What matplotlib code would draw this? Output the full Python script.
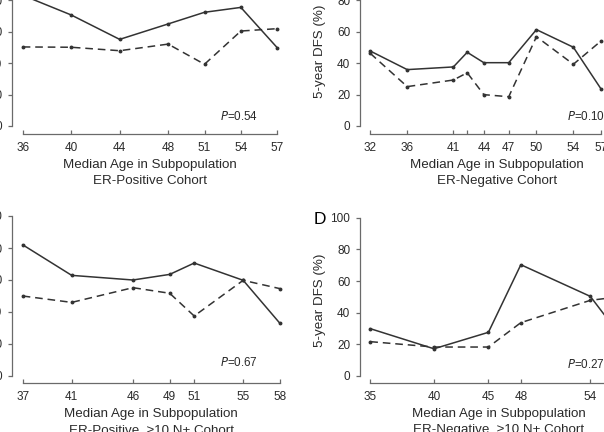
import matplotlib
matplotlib.use("Agg")
import matplotlib.pyplot as plt

plt.rcParams['font.family'] = ['Liberation Sans', 'DejaVu Sans']

# ---------------- data ----------------
ages_a = [36, 40, 44, 48, 51, 54, 57]
solid_a = [83, 70.5, 55, 64.8, 72.2, 75.3, 49.7]
dashed_a = [50.2, 50, 47.8, 52, 39.2, 60.3, 61.8]
labels_a = ["36", "40", "44", "48", "51", "54", "57"]

ages_b = [32, 36, 41, 42.5, 44.3, 47, 50, 54, 57]
solid_b = [47.6, 35.8, 37.5, 46.8, 40.2, 40.2, 61.2, 50, 23.5]
dashed_b = [46.1, 25, 29.2, 33.8, 19.9, 18.6, 56.7, 39.2, 54]
labels_b = ["32", "36", "41", "", "44", "47", "50", "54", "57"]

ages_c = [37, 41, 46, 49, 51, 55, 58]
solid_c = [82, 62.9, 60, 63.5, 70.6, 59.8, 32.9]
dashed_c = [50, 46, 55.2, 51.7, 37.5, 59.8, 54.6]
labels_c = ["37", "41", "46", "49", "51", "55", "58"]

ages_d = [35, 40.5, 45.2, 48, 54, 57]
solid_d = [29.9, 17.2, 27.6, 70.3, 50.3, 21.5]
dashed_d = [21.7, 18.3, 18.3, 33.7, 47.8, 50.5]
labels_d = ["35", "40", "45", "48", "54", "57"]

pvals = ["0.54", "0.10", "0.67", "0.27"]
cohorts = ["ER-Positive Cohort", "ER-Negative Cohort",
           "ER-Positive, \u226510 N+ Cohort", "ER-Negative, \u226510 N+ Cohort"]

# ---------------- layout ----------------
W, H = 604, 432
fig = plt.figure(figsize=(W / 100, H / 100), dpi=100)

LINE = '#333333'
AXC = '#6a6a6a'
TXT = '#2a2a2a'


def panel(ages, solid, dashed, labels, pval, cohort,
          yaxis_px, first_px, px_year, zero_px, px_unit, xaxis_px,
          center_px, p_x, p_y, show_ylabel):
    x_lo = ages[0] - (first_px - yaxis_px) / px_year
    right_px = 2 * center_px - yaxis_px
    x_hi = ages[0] + (right_px - first_px) / px_year
    y_lo = -(xaxis_px - zero_px) / px_unit
    top_px = zero_px - 100 * px_unit
    rect = [yaxis_px / W, 1 - xaxis_px / H,
            (right_px - yaxis_px) / W, (xaxis_px - top_px) / H]
    ax = fig.add_axes(rect)
    ax.set_xlim(x_lo, x_hi)
    ax.set_ylim(y_lo, 100)
    ax.patch.set_visible(False)
    ax.plot(ages, solid, color=LINE, lw=1.1, marker='o', ms=1.8)
    ax.plot(ages, dashed, color=LINE, lw=1.1, marker='o', ms=1.8,
            linestyle=(0, (5, 3.2)))
    for s in ['top', 'right']:
        ax.spines[s].set_visible(False)
    for s in ['left', 'bottom']:
        ax.spines[s].set_color(AXC)
        ax.spines[s].set_linewidth(0.9)
    ax.spines['left'].set_bounds(0, 100)
    ax.spines['bottom'].set_bounds(ages[0], ages[-1])
    ax.set_yticks([0, 20, 40, 60, 80, 100])
    ax.set_xticks(ages)
    ax.set_xticklabels(labels)
    ax.tick_params(axis='x', direction='in', length=3, width=0.9,
                   color=AXC, labelsize=8.5, labelcolor=TXT, pad=5.8)
    ax.tick_params(axis='y', direction='out', length=3, width=0.9,
                   color=AXC, labelsize=8.5, labelcolor=TXT, pad=4.2)
    ax.set_xlabel("Median Age in Subpopulation\n" + cohort, fontsize=9.6,
                  color=TXT, labelpad=4, linespacing=1.45)
    if show_ylabel:
        ax.set_ylabel("5-year DFS (%)", fontsize=9.6, color=TXT, labelpad=3)
    ax.text(p_x, p_y, "$\\it{P}$=" + pval, fontsize=8.4, color=TXT,
            ha='left', va='center')
    return ax


panel(ages_a, solid_a, dashed_a, labels_a, pvals[0], cohorts[0],
      12.3, 22.7, 12.12, 126, 1.575, 133.5, 150, 52.3, 6.3, True)
panel(ages_b, solid_b, dashed_b, labels_b, pvals[1], cohorts[1],
      360.3, 370.3, 9.23, 126, 1.575, 133.5, 497, 53.3, 6.3, True)
panel(ages_c, solid_c, dashed_c, labels_c, pvals[2], cohorts[2],
      12.3, 22.7, 12.25, 376, 1.6, 382.7, 151.3, 53.1, 8.3, True)
panel(ages_d, solid_d, dashed_d, labels_d, pvals[3], cohorts[3],
      360.3, 370.3, 11.58, 376, 1.583, 382.7, 498.7, 52.0, 7.0, True)
fig.text(314 / W, 1 - 219 / H, "D", fontsize=12.5, color='black',
         ha='left', va='center')

fig.savefig("out.png", dpi=100)
